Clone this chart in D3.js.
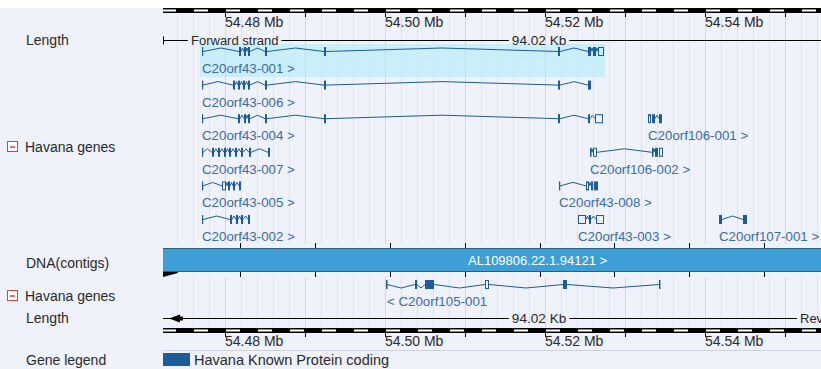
<!DOCTYPE html>
<html><head><meta charset="utf-8">
<script src="https://cdn.jsdelivr.net/npm/d3@7"></script>
<style>
html,body{margin:0;padding:0;background:#fff;}
svg{display:block;font-family:"Liberation Sans",Arial,Helvetica,sans-serif;}
</style></head><body>
<svg id="c" width="821" height="369"></svg>
<script>
// ---------- data ----------
const viewStart = 54472250, viewEnd = 54554500;
const rulerTicks = [54480000,54490000,54500000,54510000,54520000,54530000,54540000,54550000];
const rulerLabelPos = [54480000,54500000,54520000,54540000];
const rulerLabels = ["54.48 Mb","54.50 Mb","54.52 Mb","54.54 Mb"];
const lengthLabel = "94.02 Kb";
const fwdLabel = "Forward strand", revLabel = "Reverse strand";
const contigName = "AL109806.22.1.94121 >";
const contigTicks = [54481875,54491250,54500625,54510000,54519375,54528625,54538000,54547375];
const trackNames = ["Length","Havana genes","DNA(contigs)","Havana genes","Length","Gene legend"];
const legendLabel = "Havana Known Protein coding";

const txNames = ["C20orf43-001 >","C20orf43-006 >","C20orf43-004 >","C20orf106-001 >",
  "C20orf43-007 >","C20orf106-002 >","C20orf43-005 >","C20orf43-008 >",
  "C20orf43-002 >","C20orf43-003 >","C20orf107-001 >","< C20orf105-001"];
const txRows = [0,1,2,2,3,3,4,4,5,5,5,0];
const txStrand = [1,1,1,1,1,1,1,1,1,1,1,-1];
const txHighlight = [true,false,false,false,false,false,false,false,false,false,false,false];
// exons: [start, end, type] c = coding (filled), u = UTR (open)
const txExons = [
  [[54477125,54477250,"u"],[54481750,54482000,"c"],[54482375,54482625,"c"],[54482875,54483125,"c"],[54485000,54485250,"c"],[54492375,54492625,"c"],[54521625,54521875,"c"],[54525375,54525750,"c"],[54526000,54526375,"c"],[54526625,54527375,"u"]],
  [[54477125,54477250,"u"],[54481000,54481250,"c"],[54481625,54481875,"c"],[54482250,54482500,"c"],[54482875,54483125,"c"],[54485000,54485250,"c"],[54492375,54492625,"c"],[54521625,54521875,"c"],[54525375,54525750,"c"]],
  [[54477125,54477250,"u"],[54481625,54481875,"c"],[54482375,54482625,"c"],[54482875,54483125,"c"],[54485000,54485250,"c"],[54492375,54492625,"c"],[54521625,54521875,"c"],[54525375,54525625,"c"],[54526250,54527250,"u"]],
  [[54532875,54533250,"u"],[54533375,54533750,"c"],[54534250,54534625,"c"]],
  [[54477125,54477250,"u"],[54478375,54478625,"c"],[54479125,54479375,"c"],[54479875,54480125,"c"],[54480500,54480750,"c"],[54481250,54481500,"c"],[54482000,54482250,"c"],[54483000,54483250,"c"],[54485375,54485625,"c"]],
  [[54525625,54525750,"c"],[54526000,54526500,"u"],[54533375,54533500,"c"],[54533750,54534125,"c"],[54534250,54534750,"u"]],
  [[54477125,54477250,"u"],[54479625,54480125,"u"],[54480375,54480625,"c"],[54481000,54481250,"c"],[54481750,54482000,"c"]],
  [[54521750,54521875,"u"],[54525125,54525500,"u"],[54525750,54526000,"c"],[54526125,54526625,"c"]],
  [[54477125,54477250,"u"],[54480625,54480875,"c"],[54481375,54481625,"c"],[54482000,54482250,"c"],[54482875,54483125,"c"]],
  [[54524125,54525125,"u"],[54525500,54525750,"c"],[54526375,54527375,"u"]],
  [[54541750,54542125,"c"],[54544750,54545250,"c"]],
  [[54500125,54500250,"c"],[54503750,54504000,"c"],[54505000,54505875,"c"],[54505875,54506125,"u"],[54512500,54513000,"u"],[54522250,54522750,"c"],[54534250,54534375,"c"]]
];

// ---------- style / layout ----------
const BG = "#eff1fb", GENE = "#1d5c99", GENE_TXT = "#3a6ca5", HILITE = "#cbeefb";
const X0 = 163, X1 = 821;
const svg = d3.select("#c");
const x = d3.scaleLinear().domain([viewStart, viewEnd]).range([X0, X1]);
const rowYTop = d3.scaleLinear().domain([0,5]).range([51, 219]);
const rowYBottom = d3.scaleLinear().domain([0,1]).range([284, 318]);

svg.append("rect").attr("width",821).attr("height",369).attr("fill",BG);
svg.append("rect").attr("width",821).attr("height",8).attr("fill","#fff");

const defs = svg.append("defs");
defs.append("clipPath").attr("id","clipT").append("rect").attr("x",X0).attr("y",0).attr("width",X1-X0).attr("height",369);
const plot = svg.append("g").attr("clip-path","url(#clipT)");

// highlight background
txNames.forEach((n,i)=>{
  if(!txHighlight[i]) return;
  const ex = txExons[i];
  const cy = rowYTop(txRows[i]);
  plot.append("rect").attr("x",x(ex[0][0])-2).attr("y",cy-7)
    .attr("width",x(ex[ex.length-1][1])-x(ex[0][0])+3).attr("height",33).attr("fill",HILITE);
});

// grid lines
const grid = d3.range(54472000, viewEnd, 2000);
[[14,244],[277,327]].forEach(([a,b])=>{
  plot.selectAll(null).data(grid).enter().append("line")
    .attr("x1",d=>Math.round(x(d))+0.5).attr("x2",d=>Math.round(x(d))+0.5)
    .attr("y1",a).attr("y2",b)
    .attr("stroke",d=> d%10000===0 ? "#d2d6ea" : "#dfe2f1").attr("stroke-width",1);
});

// rulers
function ruler(yTop, labelY){
  const g = plot.append("g");
  g.append("rect").attr("x",X0).attr("y",yTop).attr("width",X1-X0).attr("height",5).attr("fill","#000");
  g.selectAll(null).data(d3.range(54472000, viewEnd, 4000)).enter().append("rect")
    .attr("x",d=>x(d)+1).attr("y",yTop+1.5).attr("width",d=>x(d+2000)-x(d)-2).attr("height",2)
    .attr("fill","#fff");
  g.selectAll(null).data(rulerTicks).enter().append("line")
    .attr("x1",d=>Math.round(x(d))+0.5).attr("x2",d=>Math.round(x(d))+0.5)
    .attr("y1",yTop+5).attr("y2",yTop+9).attr("stroke","#000");
  g.selectAll(null).data(rulerLabelPos).enter().append("text")
    .attr("x",d=>x(d)).attr("y",labelY).attr("font-size",14).attr("fill","#2a2a2a")
    .text((d,i)=>rulerLabels[i]);
}
ruler(8, 27);
ruler(328, 346);

// length lines
function gapText(txt, cx, y, anchor, fs){
  const t = plot.append("text").attr("x",cx).attr("y",y).attr("font-size",fs).attr("fill","#2a2a2a")
    .attr("text-anchor",anchor).text(txt);
  const bb = t.node().getBBox();
  return [bb.x-3, bb.x+bb.width+3];
}
const midX = x(viewStart + 94020/2);
// top
{
  const y = 40.5;
  const g1 = gapText(fwdLabel, 191, 45, "start", 13);
  const g2 = gapText(lengthLabel, midX, 45, "middle", 13.6);
  const segs = [[X0,g1[0]],[g1[1],g2[0]],[g2[1],X1]];
  segs.forEach(s=>plot.append("line").attr("x1",s[0]).attr("x2",s[1]).attr("y1",y).attr("y2",y).attr("stroke","#000"));
  plot.append("line").attr("x1",X0+0.5).attr("x2",X0+0.5).attr("y1",y-4).attr("y2",y+4).attr("stroke","#000");
}
// bottom
{
  const y = 318.5;
  const g2 = gapText(lengthLabel, midX, 323, "middle", 13.6);
  const g3 = gapText(revLabel, 800, 323, "start", 13);
  [[X0,g2[0]],[g2[1],g3[0]]].forEach(s=>plot.append("line").attr("x1",s[0]).attr("x2",s[1]).attr("y1",y).attr("y2",y).attr("stroke","#000"));
  plot.append("path").attr("d",`M${X0+6},${y} L${X0+17},${y-4} L${X0+17},${y+4} Z`).attr("fill","#000");
  plot.append("rect").attr("x",X0+16).attr("y",y-2).attr("width",4).attr("height",4).attr("fill","#000");
}

// contig
{
  const top = 248, bot = 272;
  plot.append("rect").attr("x",X0).attr("y",top).attr("width",X1-X0).attr("height",bot-top).attr("fill","#3d9fd6");
  plot.append("line").attr("x1",X0).attr("x2",X1).attr("y1",top+0.5).attr("y2",top+0.5).attr("stroke","#2b5f80");
  plot.append("line").attr("x1",X0).attr("x2",X1).attr("y1",bot-0.5).attr("y2",bot-0.5).attr("stroke","#2b5f80");
  plot.selectAll(null).data(contigTicks).enter().append("line")
    .attr("x1",d=>Math.round(x(d))+0.5).attr("x2",d=>Math.round(x(d))+0.5)
    .attr("y1",top-5).attr("y2",top).attr("stroke","#000");
  plot.selectAll(null).data(contigTicks).enter().append("line")
    .attr("x1",d=>Math.round(x(d))+0.5).attr("x2",d=>Math.round(x(d))+0.5)
    .attr("y1",bot).attr("y2",bot+5).attr("stroke","#000");
  plot.append("path").attr("d",`M${X0},${bot} L${X0+15},${bot} L${X0+15},${bot+1} L${X0},${bot+5} Z`).attr("fill","#000");
  plot.append("text").attr("x",x(54510375)).attr("y",265).attr("font-size",13).attr("fill","#fff").text(contigName);
}

// transcripts
txNames.forEach((name,i)=>{
  const ex = txExons[i];
  const cy = txStrand[i] > 0 ? rowYTop(txRows[i]) : rowYBottom(txRows[i]);
  const dir = txStrand[i] > 0 ? -1 : 1;
  const g = plot.append("g");
  for(let k=1;k<ex.length;k++){
    const a = x(ex[k-1][1]), b = x(ex[k][0]);
    if(b-a < 1.5) continue;
    g.append("path").attr("d",`M${a},${cy+0.5} L${(a+b)/2},${cy+0.5+dir*3.5} L${b},${cy+0.5}`)
      .attr("fill","none").attr("stroke",GENE).attr("stroke-width",1);
  }
  ex.forEach(e=>{
    const xs = x(e[0]), w = Math.max(1, x(e[1])-x(e[0]));
    if(e[2]==="c"){
      g.append("rect").attr("x",xs).attr("y",cy-4).attr("width",Math.max(1.5,w)).attr("height",9).attr("fill",GENE);
    } else {
      if(w <= 1.5){
        g.append("rect").attr("x",xs).attr("y",cy-4).attr("width",1.2).attr("height",9).attr("fill",GENE);
      } else {
        g.append("rect").attr("x",xs+0.5).attr("y",cy-3.5).attr("width",w-1).attr("height",8)
          .attr("fill","none").attr("stroke",GENE).attr("stroke-width",1);
      }
    }
  });
  g.append("text").attr("x",x(ex[0][0])+ (txStrand[i]>0?0:1)).attr("y",cy+22).attr("font-size",13.3)
    .attr("fill",GENE_TXT).text(name);
});

// legend
svg.append("line").attr("x1",X0).attr("x2",X1).attr("y1",350.5).attr("y2",350.5).attr("stroke","#cfd2e2");
svg.append("rect").attr("x",163).attr("y",353).attr("width",27).attr("height",13).attr("fill",GENE);
svg.append("text").attr("x",194).attr("y",365).attr("font-size",14.5).attr("fill","#2a2a2a").text(legendLabel);

// left labels
const labelY = [45,152,268,301,323,365];
const labelX = [26,25,26,25,26,26];
trackNames.forEach((t,i)=>{
  svg.append("text").attr("x",labelX[i]).attr("y",labelY[i]).attr("font-size",14).attr("fill","#2a2a2a").text(t);
});
[147,296].forEach(cy=>{
  svg.append("rect").attr("x",7.5).attr("y",cy-5.5).attr("width",10).attr("height",10)
    .attr("fill","#fff").attr("stroke","#d9413a");
  svg.append("line").attr("x1",10).attr("x2",15).attr("y1",cy).attr("y2",cy).attr("stroke","#d9413a").attr("stroke-width",1.5);
});
</script>
</body></html>
